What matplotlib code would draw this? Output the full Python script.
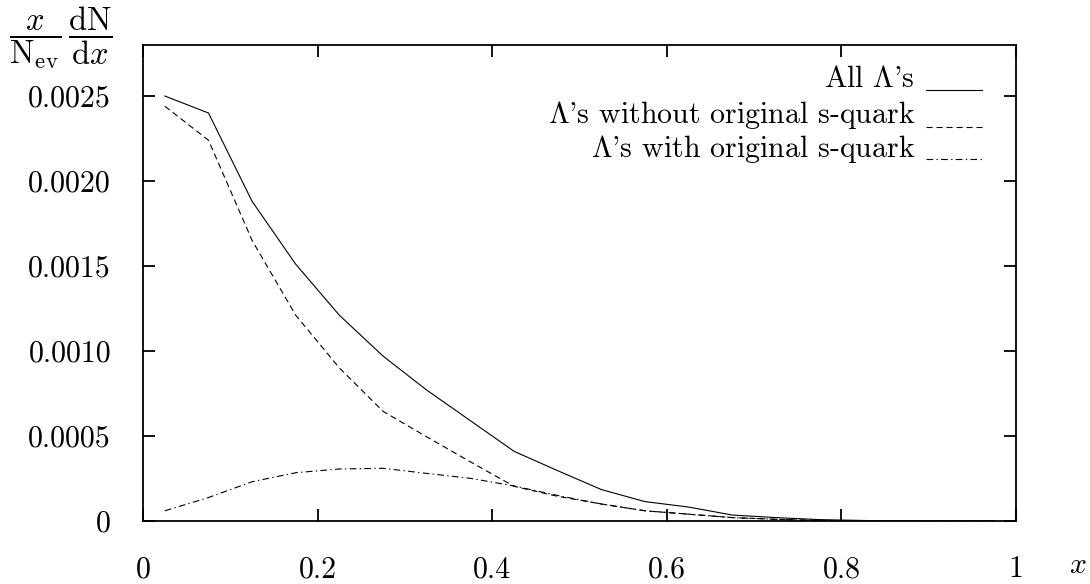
import numpy as np
import matplotlib
matplotlib.use("Agg")
import matplotlib.pyplot as plt

plt.rcParams['font.family'] = 'serif'
plt.rcParams['font.serif'] = ['cmr10', 'DejaVu Serif']
plt.rcParams['mathtext.fontset'] = 'cm'
plt.rcParams['axes.unicode_minus'] = False

# bin centres in x (bin width 0.05)
x_bins = [0.025, 0.075, 0.125, 0.175, 0.225, 0.275, 0.325, 0.375, 0.425, 0.475,
          0.525, 0.575, 0.625, 0.675, 0.725, 0.775, 0.825, 0.875, 0.925, 0.975]

all_lambda = [0.00250, 0.00240, 0.00188, 0.00151, 0.00121, 0.00097, 0.00077, 0.00059,
              0.00041, 0.000296, 0.000185, 0.000114, 0.000082, 0.000035, 0.00002,
              0.000008, 0.000003, 0.0, 0.0, 0.0]
without_s = [0.00244, 0.00224, 0.00165, 0.00121, 0.00090, 0.000645, 0.000495, 0.000348,
             0.000204, 0.000145, 0.0001, 0.00006, 0.00004, 0.00002, 0.00001,
             0.000003, 0.0, 0.0, 0.0, 0.0]
with_s = [0.00006, 0.000138, 0.000231, 0.000284, 0.000306, 0.00031, 0.00028, 0.000251,
          0.000206, 0.00015, 0.0001, 0.00006, 0.00004, 0.00002, 0.00001,
          0.000003, 0.0, 0.0, 0.0, 0.0]

series_labels = [r"All $\Lambda$'s",
                 r"$\Lambda$'s without original s-quark",
                 r"$\Lambda$'s with original s-quark"]

y_ticks = [0, 0.0005, 0.0010, 0.0015, 0.0020, 0.0025]
y_ticklabels = ["0", "0.0005", "0.0010", "0.0015", "0.0020", "0.0025"]
x_ticks = [0, 0.2, 0.4, 0.6, 0.8, 1.0]
x_ticklabels = ["0", "0.2", "0.4", "0.6", "0.8", "1"]

styles = [dict(linestyle='-'),
          dict(linestyle=(0, (5.5, 3.5))),
          dict(linestyle=(0, (6, 3, 1.2, 3)))]

fig = plt.figure(figsize=(10.9, 5.84), dpi=100)
ax = fig.add_axes([0.1312, 0.1079, 0.8009, 0.815])

for ys, st in zip([all_lambda, without_s, with_s], styles):
    ax.plot(x_bins, ys, color='black', linewidth=0.8, **st)

ax.set_xlim(0, 1)
ax.set_ylim(0, 0.0028)
ax.set_xticks(x_ticks)
ax.set_xticklabels(x_ticklabels)
ax.set_yticks(y_ticks)
ax.set_yticklabels(y_ticklabels)
ax.tick_params(direction='in', length=8.5, width=1.3, top=True, right=True,
               labelsize=21.5)
ax.tick_params(axis='y', pad=23)
ax.tick_params(axis='x', pad=25)
for sp in ax.spines.values():
    sp.set_linewidth(1.3)

# key: right-aligned text with a short line sample
key_text_y = [0.912, 0.836, 0.765]
key_line_y = [0.9055, 0.828, 0.760]
for lab, st, ty, ly in zip(series_labels, styles, key_text_y, key_line_y):
    ax.text(0.8843, ty, lab, transform=ax.transAxes, ha='right', va='baseline',
            fontsize=21.5)
    ax.plot([0.897, 0.961], [ly, ly], transform=ax.transAxes,
            color='black', linewidth=0.8, **st)

fig.text(0.008, 0.935, r"$\dfrac{x}{\mathrm{N_{ev}}}\,\dfrac{\mathrm{dN}}{\mathrm{d}x}$",
         fontsize=23.5, ha='left', va='center')
fig.text(0.989, 0.0188, r"$x$", fontsize=21.5, ha='center', va='baseline')

fig.savefig("out.png", dpi=100)
